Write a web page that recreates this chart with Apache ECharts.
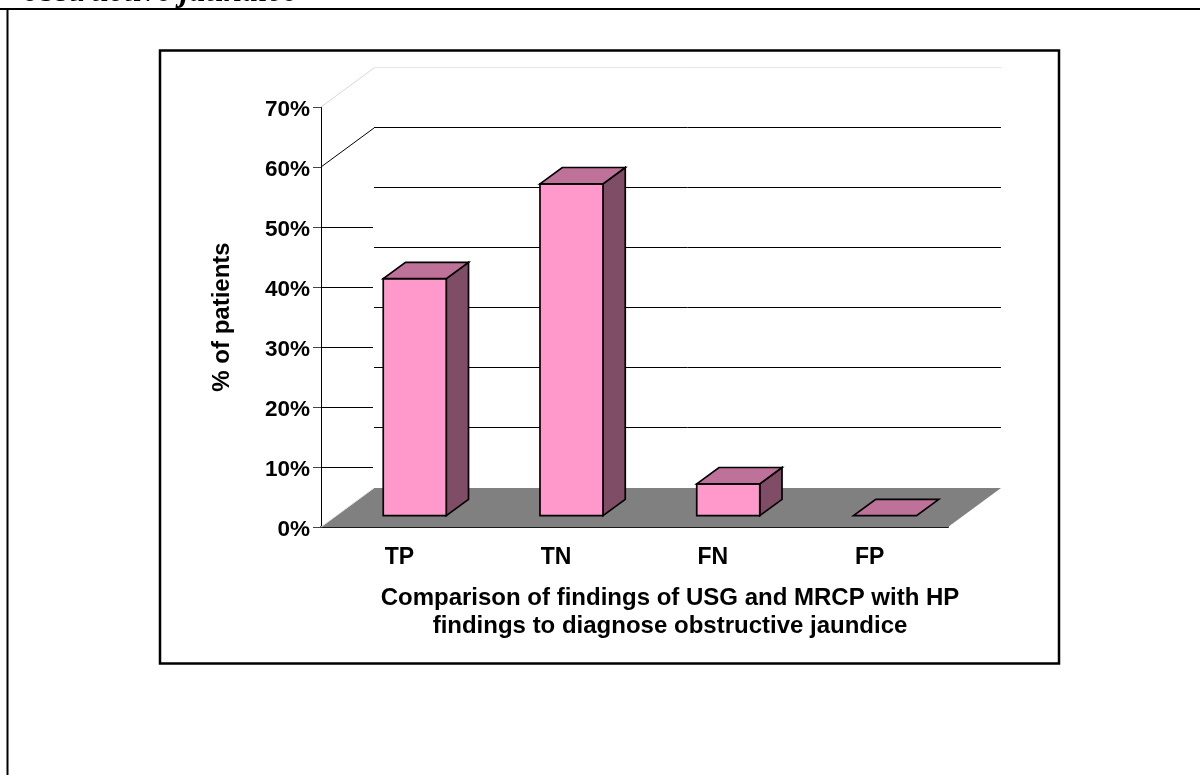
<!DOCTYPE html>
<html>
<head>
<meta charset="utf-8">
<style>
html, body { margin: 0; padding: 0; background: #fff; overflow: hidden; }
#chart { width: 1200px; height: 775px; }
</style>
<script src="https://cdn.jsdelivr.net/npm/echarts@6/dist/echarts.min.js"></script>
</head>
<body>
<div id="chart"></div>
<script>
// Diagnostic outcome categories and the share of patients in each (%)
const categories = ['TP', 'TN', 'FN', 'FP'];
const patientShare = [39.5, 55.3, 5.3, 0];
const gridLevels = [10, 20, 30, 40, 50, 60, 70];
const sideFlatLevels = [10, 20, 30, 40, 50];
const sideSlopedLevels = [60, 70];
const headingText = 'obstructive jaundice';
const xAxisTitle = 'Comparison of findings of USG and MRCP with HP\nfindings to diagnose obstructive jaundice';
const yAxisTitle = '% of patients';

// Oblique projection of the floor depth on screen
const DEPTH_X = 53;
const DEPTH_Y = -39;
// Bars stand between these fractions of the floor depth
const BAR_NEAR = 0.29;
const BAR_FAR = 0.71;
const BAR_WIDTH_RATIO = 0.402;

const FONT = '"Liberation Sans", Arial, sans-serif';
const crisp = v => Math.round(v) + 0.5;

function lineEl(x1, y1, x2, y2, stroke, width) {
  return { type: 'line', shape: { x1, y1, x2, y2 }, style: { stroke, lineWidth: width || 1 } };
}
function polyEl(points, fill, stroke, width) {
  return {
    type: 'polygon',
    shape: { points },
    style: { fill, stroke: stroke || null, lineWidth: width || 0, lineJoin: 'miter' }
  };
}

const chart = echarts.init(document.getElementById('chart'), null, { renderer: 'canvas' });

const option = {
  animation: false,
  backgroundColor: '#ffffff',
  grid: { left: 321, top: 107, width: 627, height: 420, containLabel: false },
  xAxis: {
    type: 'category',
    data: categories,
    boundaryGap: true,
    name: xAxisTitle,
    nameLocation: 'middle',
    nameGap: 57,
    nameTextStyle: { fontFamily: FONT, fontWeight: 'bold', fontSize: 24, color: '#000', lineHeight: 28,
      padding: [0, 0, 0, 71] },
    axisLine: { lineStyle: { color: '#1a1a1a', width: 2 } },
    axisTick: { alignWithLabel: false, length: 8, lineStyle: { color: '#222', width: 1 } },
    axisLabel: { fontFamily: FONT, fontWeight: 'bold', fontSize: 23, color: '#000', margin: 19 },
    splitLine: { show: false }
  },
  yAxis: {
    type: 'value',
    min: 0,
    max: 70,
    interval: 10,
    name: yAxisTitle,
    nameLocation: 'middle',
    nameRotate: 90,
    nameGap: 87,
    nameTextStyle: { fontFamily: FONT, fontWeight: 'bold', fontSize: 24, color: '#000' },
    axisLine: { show: true, lineStyle: { color: '#000', width: 1 } },
    axisTick: { show: true, length: 8, lineStyle: { color: '#444', width: 1 } },
    axisLabel: { formatter: '{value}%', fontFamily: FONT, fontWeight: 'bold', fontSize: 22.5, color: '#000', margin: 11,
      verticalAlign: 'top', lineHeight: 6 },
    splitLine: { show: false }
  },
  series: [
    {
      // Floor of the plot, drawn behind the bars
      type: 'custom',
      coordinateSystem: 'cartesian2d',
      z: 1,
      silent: true,
      data: [[0, 0]],
      renderItem(params, api) {
        const cs = params.coordSys;
        const y0 = api.coord([0, 0])[1];
        const x0 = cs.x, x1 = cs.x + cs.width;
        return {
          type: 'group',
          children: [
            polyEl([[x0, y0], [x0 + DEPTH_X, y0 + DEPTH_Y], [x1 + DEPTH_X, y0 + DEPTH_Y], [x1, y0]], '#808080'),
            lineEl(x0, y0, x0 + DEPTH_X, y0 + DEPTH_Y, '#e4e4e4', 1)
          ]
        };
      }
    },
    {
      // Gridlines along the back wall; the topmost is faint
      type: 'custom',
      coordinateSystem: 'cartesian2d',
      z: 1,
      silent: true,
      data: gridLevels.map(v => [0, v]),
      renderItem(params, api) {
        const cs = params.coordSys;
        const level = api.value(1);
        const y = crisp(api.coord([0, level])[1] + DEPTH_Y - 1);
        const top = level === gridLevels[gridLevels.length - 1];
        return lineEl(cs.x + DEPTH_X, y, cs.x + cs.width + DEPTH_X, y, top ? '#e6e6e6' : '#000', 1);
      }
    },
    {
      // Flat rules on the left wall
      type: 'custom',
      coordinateSystem: 'cartesian2d',
      z: 1,
      silent: true,
      data: sideFlatLevels.map(v => [0, v]),
      renderItem(params, api) {
        const cs = params.coordSys;
        const y = crisp(api.coord([0, api.value(1)])[1]);
        return lineEl(cs.x, y, cs.x + DEPTH_X - 1, y, '#000', 1);
      }
    },
    {
      // Sloped rules on the left wall
      type: 'custom',
      coordinateSystem: 'cartesian2d',
      z: 1,
      silent: true,
      data: sideSlopedLevels.map(v => [0, v]),
      renderItem(params, api) {
        const cs = params.coordSys;
        const level = api.value(1);
        const y = api.coord([0, level])[1];
        const top = level === sideSlopedLevels[sideSlopedLevels.length - 1];
        return lineEl(cs.x, y, cs.x + DEPTH_X, y + DEPTH_Y, top ? '#d8d8d8' : '#000', 1);
      }
    },
    {
      // Three-faced bars
      type: 'custom',
      coordinateSystem: 'cartesian2d',
      z: 3,
      data: patientShare.map((v, i) => [i, v]),
      encode: { x: 0, y: 1 },
      renderItem(params, api) {
        const idx = api.value(0);
        const val = api.value(1);
        const band = api.size([1, 0])[0];
        const cx = api.coord([idx, 0])[0];
        const base = api.coord([idx, 0])[1];
        const head = api.coord([idx, val])[1];
        const w = band * BAR_WIDTH_RATIO;
        const nx = DEPTH_X * BAR_NEAR, ny = DEPTH_Y * BAR_NEAR;
        const fx = DEPTH_X * (BAR_FAR - BAR_NEAR), fy = DEPTH_Y * (BAR_FAR - BAR_NEAR);
        const l = cx - w / 2 + nx, r = cx + w / 2 + nx;
        const b = base + ny, t = head + ny;
        const edge = '#000';
        const children = [];
        if (val > 0) {
          children.push(polyEl([[r, t], [r + fx, t + fy], [r + fx, b + fy], [r, b]], '#804d66', edge, 1.7));
          children.push(polyEl([[l, t], [r, t], [r, b], [l, b]], '#ff99cc', edge, 1.7));
        }
        children.push(polyEl([[l, t], [l + fx, t + fy], [r + fx, t + fy], [r, t]], '#bf7299', edge, 1.7));
        return { type: 'group', children };
      }
    }
  ],
  graphic: {
    elements: [
      // Page rule with the clipped caption above it, and the box around the chart
      {
        type: 'text', left: 23, top: -24, silent: true,
        style: { text: headingText, fill: '#000', font: 'italic bold 33px "Liberation Serif", serif' }
      },
      { type: 'line', silent: true, shape: { x1: 0, y1: 9, x2: 1200, y2: 9 }, style: { stroke: '#000', lineWidth: 2 } },
      { type: 'line', silent: true, shape: { x1: 7.5, y1: 9, x2: 7.5, y2: 775 }, style: { stroke: '#000', lineWidth: 2 } },
      { type: 'rect', silent: true, shape: { x: 160, y: 50.5, width: 899, height: 613 },
        style: { fill: 'transparent', stroke: '#000', lineWidth: 2.5 } }
    ]
  }
};

chart.setOption(option);
</script>
</body>
</html>
